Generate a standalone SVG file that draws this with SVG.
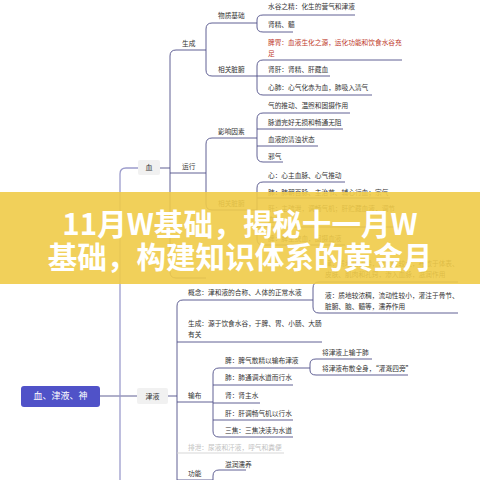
<svg xmlns="http://www.w3.org/2000/svg" width="480" height="480" viewBox="0 0 480 480">
<style>
.c{fill:none;stroke:#4e4e88;stroke-width:0.9}
.c1{fill:none;stroke:#9c9ccc;stroke-width:1.3}
.cf{fill:none;stroke:#d2d2d2;stroke-width:0.9}
text{font-family:"Noto Sans CJK SC","Noto Sans",sans-serif;font-size:6.7px;fill:#333}
.red{fill:#c0392b}
.fade{fill:#c2c2c2}
.l1{fill:#f1f1f1}
.root{fill:#5052c8}
.rt{fill:#fff;font-size:9px}
.title{fill:#fff;font-size:29.6px;font-weight:bold;text-anchor:middle}
</style>
<rect width="480" height="480" fill="#fff"/>
<g id="connectors">
<path class="c" d="M100,396 H137"/>
<path class="c1" d="M138,168 H126 Q120,168 120,174 V480"/>
<path class="c" d="M160,168 H170"/>
<path class="c" d="M206,50 H176 Q170,50 170,56 V272 Q170,278 176,278 H206"/>
<path class="c" d="M170,173 H206"/>
<path class="c" d="M257,23 H212 Q206,23 206,29 V70 Q206,76 212,76 H257"/>
<path class="c" d="M355,15 H263 Q257,15 257,20 V27 Q257,32 263,32 H293"/>
<path class="c" d="M402,60 H263 Q257,60 257,66 V89 Q257,95 263,95 H372"/>
<path class="c" d="M257,76 H330"/>
<path class="c" d="M257,138 H212 Q206,138 206,144 V204 Q206,210 212,210 H257"/>
<path class="c" d="M350,113 H263 Q257,113 257,119 V156 Q257,162 263,162 H283"/>
<path class="c" d="M257,129 H343"/>
<path class="c" d="M257,146 H318"/>
<path class="c" d="M345,182 H263 Q257,182 257,188 V239 Q257,245 263,245 H345"/>
<path class="c" d="M257,198 H390"/>
<path class="c" d="M257,227 H400"/>
<path class="c" d="M168,396 H177"/>
<path class="c" d="M313,300 H183 Q177,300 177,306 V490"/>
<path class="c" d="M458,282 H319 Q313,282 313,288 V307 Q313,313 319,313 H458"/>
<path class="c" d="M177,342 H322"/>
<path class="c" d="M177,402 H213"/>
<path class="c" d="M310,368 H219 Q213,368 213,374 V431 Q213,437 219,437 H293"/>
<path class="c" d="M213,385 H293"/>
<path class="c" d="M213,403 H260"/>
<path class="c" d="M213,420 H293"/>
<path class="c" d="M372,359 H316 Q310,359 310,364 V370 Q310,375 316,375 H408"/>
<path class="cf" d="M177,453 H284"/>
<path class="c" d="M177,480 H213"/>
<path class="c" d="M246,470 H219 Q213,470 213,476 V486"/>
</g>
<g id="root"><rect class="root" x="21" y="386" width="79" height="21" rx="3"/><text class="rt" x="60.5" y="399.3" text-anchor="middle">血、津液、神</text></g>
<g id="n-xue"><rect class="l1" x="138" y="160" width="22" height="15" rx="2"/><text x="149" y="170" text-anchor="middle" style="font-size:7px">血</text></g>
<g id="n-jinye"><rect class="l1" x="137" y="388" width="31" height="16" rx="2"/><text x="152.5" y="398.6" text-anchor="middle" style="font-size:7px">津液</text></g>
<g id="n-sc"><text x="182" y="45.5">生成</text></g>
<g id="n-yx"><text x="182" y="168.5">运行</text></g>
<g id="n-wzjc"><text x="218" y="17.5">物质基础</text></g>
<g id="n-xgzf1"><text x="218" y="71.5">相关脏腑</text></g>
<g id="n-yxys"><text x="218" y="133.5">影响因素</text></g>
<g id="n-xgzf2"><text x="218" y="205.5">相关脏腑</text></g>
<g id="n-sgzj"><text x="268" y="8.5">水谷之精：化生的营气和津液</text></g>
<g id="n-sjs"><text x="268" y="26.5">肾精、髓</text></g>
<g id="n-pw"><text class="red" x="268" y="44.5">脾胃：血液生化之源，运化功能和饮食水谷充</text><text class="red" x="268" y="55.5">足</text></g>
<g id="n-sg"><text x="268" y="71.5">肾肝：肾精、肝藏血</text></g>
<g id="n-xf"><text x="268" y="89.5">心肺：心气化赤为血，肺吸入清气</text></g>
<g id="n-qd"><text x="268" y="107.5">气的推动、温煦和固摄作用</text></g>
<g id="n-md"><text x="268" y="124.5">脉道完好无损和畅通无阻</text></g>
<g id="n-xy"><text x="268" y="141.5">血液的清浊状态</text></g>
<g id="n-xq"><text x="268" y="158.5">邪气</text></g>
<g id="n-xin"><text x="268" y="177.5">心：心主血脉、心气推动</text></g>
<g id="n-fei"><text x="268" y="194.5">肺：肺朝百脉、主治节、辅心行血；宗气</text></g>
<g id="n-gan"><text x="268" y="210.5">肝：主疏泄，调畅气机；肝贮藏血液，调节</text><text x="268" y="221.5">血量</text></g>
<g id="n-pi"><text x="268" y="240.5">脾：脾主统血，固摄血液</text></g>
<g id="n-gn"><text x="188" y="294.5">概念：津和液的合称、人体的正常水液</text></g>
<g id="n-jin"><text x="325" y="265.5">津：质地较清稀，流动性较大，布散于体表、</text><text x="325" y="276.5">皮肤、肌肉和孔窍，渗入血脉，滋润作用</text></g>
<g id="n-ye"><text x="325" y="297.5">液：质地较浓稠，流动性较小，灌注于骨节、</text><text x="325" y="308.5">脏腑、脑、髓等，濡养作用</text></g>
<g id="n-sc2"><text x="188" y="325.5">生成：源于饮食水谷，于脾、胃、小肠、大肠</text><text x="188" y="336.5">有关</text></g>
<g id="n-sb"><text x="188" y="397.5">输布</text></g>
<g id="n-pi2"><text x="225" y="362.5">脾：脾气散精以输布津液</text></g>
<g id="n-j1"><text x="322" y="354.5">将津液上输于肺</text></g>
<g id="n-j2"><text x="322" y="370.5">将津液布散全身，“灌溉四旁”</text></g>
<g id="n-fei2"><text x="225" y="379.5">肺：肺通调水道而行水</text></g>
<g id="n-shen2"><text x="225" y="397.5">肾：肾主水</text></g>
<g id="n-gan2"><text x="225" y="415.5">肝：肝调畅气机以行水</text></g>
<g id="n-sj"><text x="225" y="432.5">三焦：三焦决渎为水道</text></g>
<g id="n-px"><text class="fade" x="188" y="449.5">排泄：尿液和汗液，呼气和粪便</text></g>
<g id="n-gneng"><text x="188" y="475.5">功能</text></g>
<g id="n-zr"><text x="225" y="466.5">滋润濡养</text></g>
<g id="banner"><rect x="0" y="192" width="480" height="92" fill="#f0cb48" opacity="0.9"/>
<text class="title" x="240" y="235">11月W基础，揭秘十一月W</text>
<text class="title" x="240" y="268">基础，构建知识体系的黄金月</text></g>
</svg>
